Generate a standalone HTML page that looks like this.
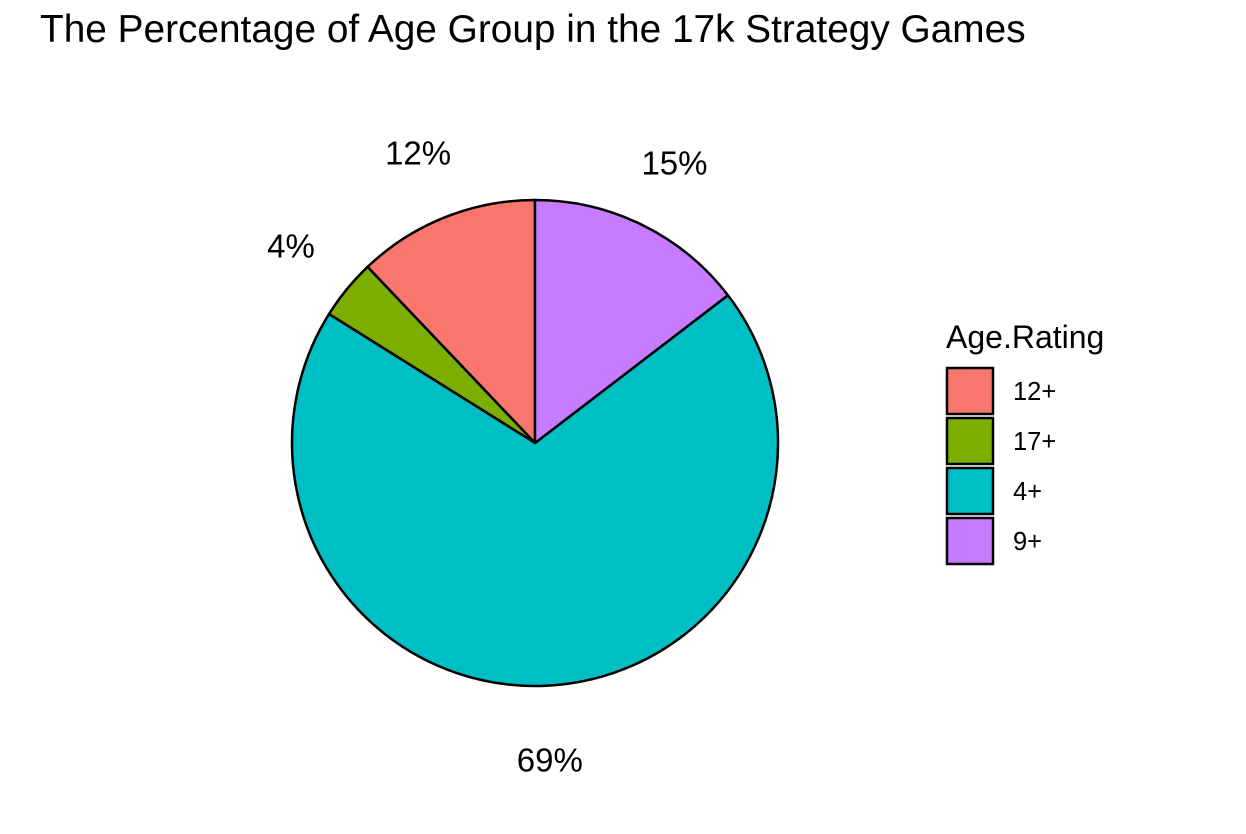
<!DOCTYPE html>
<html><head><meta charset="utf-8"><style>
html,body{margin:0;padding:0;background:#fff;}
svg{display:block;font-family:"Liberation Sans",Arial,sans-serif;}
</style></head><body>
<svg id="chart" width="1246" height="834" viewBox="0 0 1246 834">
<rect width="1246" height="834" fill="#fff"/>
<text x="40" y="42" font-size="38.8" fill="#000">The Percentage of Age Group in the 17k Strategy Games</text>
<g id="slices"></g>
<g id="labels"></g>
<g id="legend">
<text x="946" y="348" font-size="32" fill="#000">Age.Rating</text>
</g>
</svg>
<script>
const categories = ["12+", "17+", "4+", "9+"];
const values = [12.1, 4.0, 69.3, 14.6];
const labels = ["12%", "4%", "69%", "15%"];
const colors = ["#F8766D", "#7CAE00", "#00BFC4", "#C77CFF"];

const ns = "http://www.w3.org/2000/svg";
const cx = 535, cy = 443, r = 243, lr = 315;
const total = values.reduce((a, b) => a + b, 0);
function pt(theta, rad) { return [cx - rad * Math.sin(theta), cy - rad * Math.cos(theta)]; }
const sg = document.getElementById("slices");
const lg = document.getElementById("labels");
let acc = 0;
values.forEach((v, i) => {
  const a0 = acc / total * 2 * Math.PI;
  acc += v;
  const a1 = acc / total * 2 * Math.PI;
  const p0 = pt(a0, r), p1 = pt(a1, r);
  const large = (a1 - a0) > Math.PI ? 1 : 0;
  const path = document.createElementNS(ns, "path");
  path.setAttribute("d", `M${cx},${cy} L${p0[0]},${p0[1]} A${r},${r} 0 ${large} 0 ${p1[0]},${p1[1]} Z`);
  path.setAttribute("fill", colors[i]);
  path.setAttribute("stroke", "#000");
  path.setAttribute("stroke-width", "2.5");
  path.setAttribute("stroke-linejoin", "round");
  
  
  sg.appendChild(path);
  const m = pt((a0 + a1) / 2, lr);
  const t = document.createElementNS(ns, "text");
  t.setAttribute("x", m[0]);
  t.setAttribute("y", m[1] + 14);
  t.setAttribute("text-anchor", "middle");
  t.setAttribute("font-size", "33");
  t.textContent = labels[i];
  
  
  lg.appendChild(t);
});
const leg = document.getElementById("legend");
categories.forEach((c, i) => {
  const y = 368 + i * 50;
  const rc = document.createElementNS(ns, "rect");
  rc.setAttribute("x", 947); rc.setAttribute("y", y);
  rc.setAttribute("width", 46); rc.setAttribute("height", 46);
  rc.setAttribute("fill", colors[i]); rc.setAttribute("stroke", "#000"); rc.setAttribute("stroke-width", "2.5");
  
  
  leg.appendChild(rc);
  const t = document.createElementNS(ns, "text");
  t.setAttribute("x", 1013); t.setAttribute("y", y + 32);
  t.setAttribute("font-size", "25.5");
  t.textContent = c;
  
  
  leg.appendChild(t);
});
</script>
</body></html>
